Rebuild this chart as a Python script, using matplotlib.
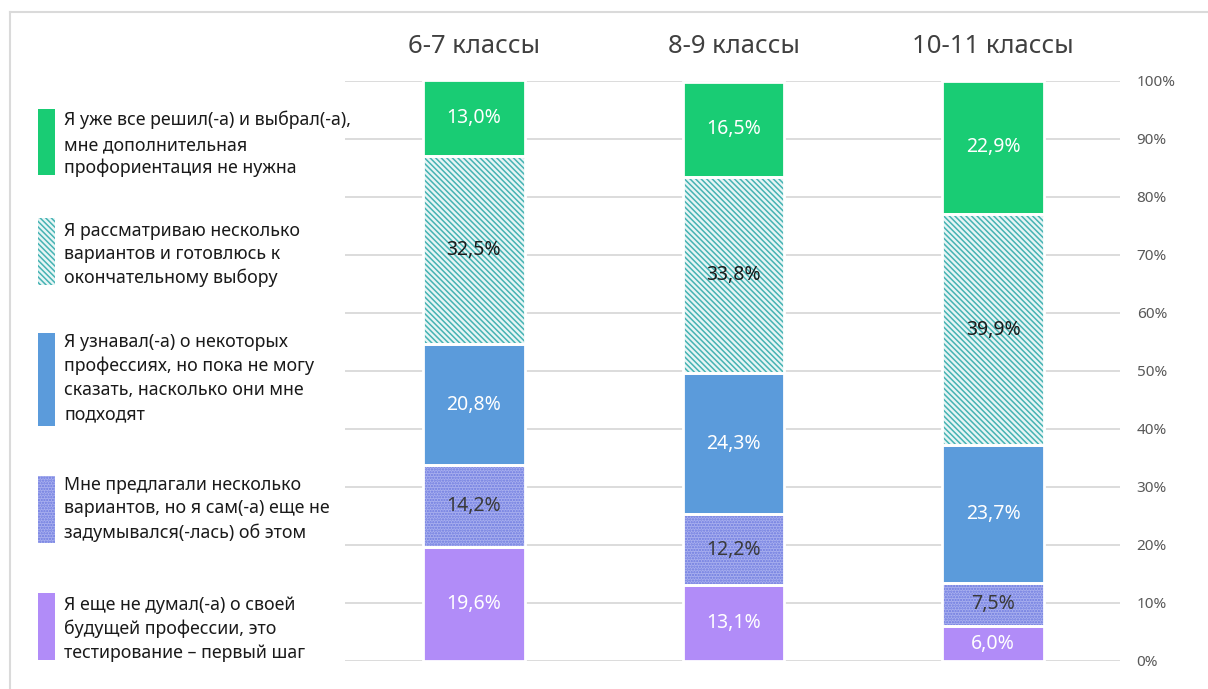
import numpy as np
import matplotlib
matplotlib.use('Agg')
import matplotlib.pyplot as plt
from matplotlib.patches import Rectangle
from matplotlib.lines import Line2D

plt.rcParams['font.family'] = ['Noto Sans', 'DejaVu Sans']
plt.rcParams['hatch.linewidth'] = 1.1

# Data
groups = ['6-7 классы', '8-9 классы', '10-11 классы']
categories = [
    'Я еще не думал(-а) о своей\nбудущей профессии, это\nтестирование – первый шаг',
    'Мне предлагали несколько\nвариантов, но я сам(-а) еще не\nзадумывался(-лась) об этом',
    'Я узнавал(-а) о некоторых\nпрофессиях, но пока не могу\nсказать, насколько они мне\nподходят',
    'Я рассматриваю несколько\nвариантов и готовлюсь к\nокончательному выбору',
    'Я уже все решил(-а) и выбрал(-а),\nмне дополнительная\nпрофориентация не нужна',
]
not_thought = [19.6, 13.1, 6.0]
offered = [14.2, 12.2, 7.5]
learned = [20.8, 24.3, 23.7]
considering = [32.5, 33.8, 39.9]
decided = [13.0, 16.5, 22.9]
series = [not_thought, offered, learned, considering, decided]

# Styles: (face, hatch, hatch colour, label colour)
styles = [
    ('#B18CF8', None, None, 'white'),
    ('#A9B0EF', '......', '#6C79DF', '#3a3a3a'),
    ('#5B9BDB', None, None, 'white'),
    ('#E6F5F5', '\\\\\\\\\\\\', '#45B3B3', '#1a1a1a'),
    ('#19CC74', None, None, 'white'),
]

fig = plt.figure(figsize=(12.08, 6.89), dpi=100)
ax = fig.add_axes([345 / 1208, 28 / 689, 775 / 1208, 580 / 689])

x = np.arange(len(groups))
width = 0.39
bottom = np.zeros(len(groups))
for vals, (face, hatch, hcol, tcol) in zip(series, styles):
    vals = np.array(vals)
    if hatch:
        ax.bar(x, vals, width, bottom=bottom, color=face, hatch=hatch,
               edgecolor=hcol, linewidth=0, zorder=2)
    else:
        ax.bar(x, vals, width, bottom=bottom, color=face, linewidth=0, zorder=2)
    ax.bar(x, vals, width, bottom=bottom, fill=False, edgecolor='white',
           linewidth=2, zorder=3)
    for xi, b, v in zip(x, bottom, vals):
        ax.text(xi, b + v / 2, f'{v:.1f}%'.replace('.', ','), ha='center',
                va='center', fontsize=14, color=tcol, zorder=4)
    bottom += vals

for xi, g in zip(x, groups):
    ax.text(xi, 105.9, g, ha='center', va='center', fontsize=18.5,
            color='#404040', fontweight='medium', clip_on=False)

ax.set_xlim(-0.497, 2.489)
ax.set_ylim(0, 100)
ax.set_yticks(np.arange(0, 101, 10))
ax.set_yticklabels([f'{t}%' for t in range(0, 101, 10)])
ax.yaxis.tick_right()
ax.tick_params(axis='y', length=0, pad=12, labelsize=11, labelcolor='#595959')
ax.set_xticks([])
ax.grid(axis='y', color='#D9D9D9', linewidth=1.3, zorder=0)
ax.set_axisbelow(True)
for s in ax.spines.values():
    s.set_visible(False)

# Legend on the left
W, H = 1208, 689
legend_items = [
    (4, 109, 175, [120, 145, 168]),
    (3, 218, 285, [231, 254, 278]),
    (2, 333, 426, [342, 366, 390, 414]),
    (1, 476, 543, [485, 508, 533]),
    (0, 593, 660, [605, 629, 653]),
]
for idx, top, bot, lines in legend_items:
    face, hatch, hcol, _ = styles[idx]
    rect = Rectangle((38 / W, 1 - bot / H), 17 / W, (bot - top) / H,
                     transform=fig.transFigure, facecolor=face,
                     hatch=hatch, edgecolor=hcol if hatch else face,
                     linewidth=0)
    fig.add_artist(rect)
    for ln, y in zip(categories[idx].split('\n'), lines):
        fig.text(64 / W, 1 - y / H, ln, ha='left', va='center',
                 fontsize=12.8, color='#1a1a1a')

# frame
fig.add_artist(Line2D([10 / W, 1], [1 - 12 / H, 1 - 12 / H],
                      transform=fig.transFigure, color='#DADADA', linewidth=1.5))
fig.add_artist(Line2D([10 / W, 10 / W], [0, 1 - 12 / H],
                      transform=fig.transFigure, color='#DADADA', linewidth=1.5))

fig.savefig('out.png', dpi=100)
